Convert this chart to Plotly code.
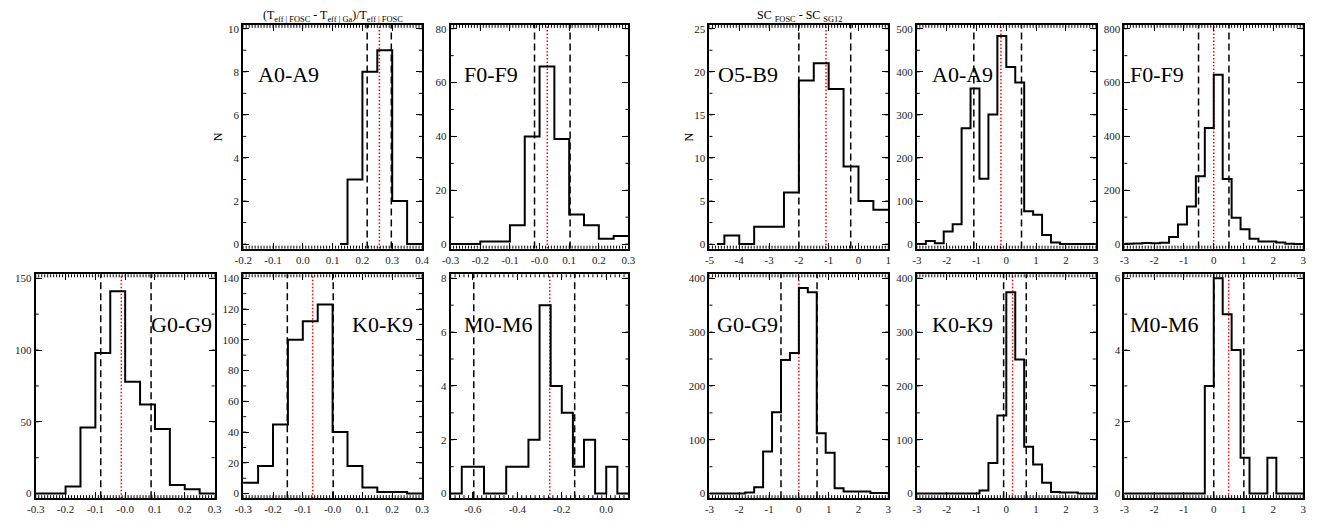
import numpy as np
import plotly.graph_objects as go

# ------------------------------------------------------------------ data
# Teff panels: (Teff|FOSC - Teff|Ga)/Teff|FOSC, bin width 0.05 (bin centres)
teff_A_x = [0.125, 0.175, 0.225, 0.275, 0.325, 0.375, 0.425]
teff_A_n = [0, 3, 8, 9, 2, 0, 0]

teff_F_x = [-0.325, -0.275, -0.225, -0.175, -0.125, -0.075, -0.025,
            0.025, 0.075, 0.125, 0.175, 0.225, 0.275, 0.325]
teff_F_n = [0, 0, 0, 1, 1, 7, 40, 66, 39, 11, 7, 2, 3, 3]

teff_G_x = [-0.325, -0.275, -0.225, -0.175, -0.125, -0.075, -0.025,
            0.025, 0.075, 0.125, 0.175, 0.225, 0.275, 0.325]
teff_G_n = [0, 0, 0, 5, 46, 98, 141, 78, 62, 45, 6, 3, 0, 0]

teff_K_x = [-0.325, -0.275, -0.225, -0.175, -0.125, -0.075, -0.025,
            0.025, 0.075, 0.125, 0.175, 0.225, 0.275, 0.325]
teff_K_n = [7, 7, 18, 45, 100, 112, 123, 40, 18, 4, 1, 1, 0, 0]

teff_M_x = [-0.725, -0.675, -0.625, -0.575, -0.525, -0.475, -0.425, -0.375,
            -0.325, -0.275, -0.225, -0.175, -0.125, -0.075, -0.025, 0.025,
            0.075, 0.125]
teff_M_n = [0, 0, 1, 1, 0, 0, 1, 1, 2, 7, 4, 3, 1, 2, 0, 1, 0, 0]

# SC panels: SC_FOSC - SC_SG12 (bin centres)
sc_O_x = [-4.75, -4.25, -3.75, -3.25, -2.75, -2.25, -1.75, -1.25, -0.75,
          -0.25, 0.25, 0.75, 1.25]
sc_O_n = [0, 1, 0, 2, 2, 6, 19, 21, 18, 9, 5, 4, 4]

sc_bins = [-3.15, -2.85, -2.55, -2.25, -1.95, -1.65, -1.35, -1.05, -0.75,
           -0.45, -0.15, 0.15, 0.45, 0.75, 1.05, 1.35, 1.65, 1.95, 2.25,
           2.55, 2.85, 3.15]
sc_A_n = [0, 0, 7, 2, 29, 46, 269, 361, 152, 301, 483, 411, 375, 76, 68,
          21, 4, 0, 0, 0, 0, 0]
sc_F_n = [1, 1, 2, 4, 3, 5, 26, 73, 140, 252, 431, 629, 242, 98, 55, 20,
          10, 10, 6, 1, 0, 0]
sc_G_n = [0, 0, 0, 0, 0, 2, 12, 78, 151, 248, 261, 382, 374, 112, 76, 10,
          4, 4, 4, 1, 1, 1]
sc_K_n = [0, 0, 0, 0, 0, 0, 0, 0, 6, 57, 145, 374, 249, 87, 54, 20, 3, 2,
          2, 0, 0, 0]
sc_M_n = [0, 0, 0, 0, 0, 0, 0, 0, 0, 0, 3, 6, 5, 4, 1, 0, 0, 1, 0, 0, 0, 0]

# dashed (spread) and dotted red (centre) markers
teff_A_dash, teff_A_red = [0.216, 0.297], 0.257
teff_F_dash, teff_F_red = [-0.017, 0.103], 0.026
teff_G_dash, teff_G_red = [-0.082, 0.087], -0.013
teff_K_dash, teff_K_red = [-0.152, 0.002], -0.067
teff_M_dash, teff_M_red = [-0.596, -0.142], -0.254
sc_O_dash, sc_O_red = [-2.0, -0.26], -1.09
sc_A_dash, sc_A_red = [-1.09, 0.51], -0.18
sc_F_dash, sc_F_red = [-0.51, 0.51], 0.0
sc_G_dash, sc_G_red = [-0.60, 0.61], 0.0
sc_K_dash, sc_K_red = [-0.09, 0.67], 0.21
sc_M_dash, sc_M_red = [0.0, 1.01], 0.5

# panel labels
labels = ["A0-A9", "F0-F9", "O5-B9", "A0-A9", "F0-F9",
          "G0-G9", "K0-K9", "M0-M6", "G0-G9", "K0-K9", "M0-M6"]

# tick values / labels
xt_teff3 = [-0.3, -0.2, -0.1, 0.0, 0.1, 0.2, 0.3]
xtt_teff3 = ["-0.3", "-0.2", "-0.1", "-0.0", "0.1", "0.2", "0.3"]
xt_teffA = [-0.2, -0.1, 0.0, 0.1, 0.2, 0.3, 0.4]
xtt_teffA = ["-0.2", "-0.1", "0.0", "0.1", "0.2", "0.3", "0.4"]
xt_teffM = [-0.6, -0.4, -0.2, 0.0]
xtt_teffM = ["-0.6", "-0.4", "-0.2", "0.0"]
xt_scO = [-5, -4, -3, -2, -1, 0, 1]
xt_sc = [-3, -2, -1, 0, 1, 2, 3]

yt_teffA = [0, 2, 4, 6, 8, 10]
yt_teffF = [0, 20, 40, 60, 80]
yt_teffG = [0, 50, 100, 150]
yt_teffK = [0, 20, 40, 60, 80, 100, 120, 140]
yt_teffM = [0, 2, 4, 6, 8]
yt_scO = [0, 5, 10, 15, 20, 25]
yt_scA = [0, 100, 200, 300, 400, 500]
yt_scF = [0, 200, 400, 600, 800]
yt_scG = [0, 100, 200, 300, 400]
yt_scK = [0, 100, 200, 300, 400]
yt_scM = [0, 2, 4, 6]

# ------------------------------------------------------------------ layout
# the html body keeps its default 8px margin: the figure is 1314x507 and all
# page-pixel positions below are shifted by OFF.
OFF = 8
W, H = 1330 - 2 * OFF, 523 - 2 * OFF
cols = [(27, 208), (237, 418), (447, 627), (709, 890), (919, 1100), (1129, 1310)]
rows = [(23, 249), (275, 501)]


def px(v):
    return (v - OFF) / W


def py(v):
    return 1 - (v - OFF) / H


panels = [
    # col, row, x, n, xrange, xticks, xticktext, xminor, yticks, yminor, dash, red, label, label_x
    (1, 0, teff_A_x, teff_A_n, [-0.2, 0.4], xt_teffA, xtt_teffA, 0.01, yt_teffA, 1, teff_A_dash, teff_A_red, labels[0], 250),
    (2, 0, teff_F_x, teff_F_n, [-0.3, 0.3], xt_teff3, xtt_teff3, 0.01, yt_teffF, 10, teff_F_dash, teff_F_red, labels[1], 458),
    (3, 0, sc_O_x, sc_O_n, [-5, 1], xt_scO, [str(v) for v in xt_scO], 0.1, yt_scO, 2.5, sc_O_dash, sc_O_red, labels[2], 716),
    (4, 0, sc_bins, sc_A_n, [-3, 3], xt_sc, [str(v) for v in xt_sc], 0.1, yt_scA, 50, sc_A_dash, sc_A_red, labels[3], 932),
    (5, 0, sc_bins, sc_F_n, [-3, 3], xt_sc, [str(v) for v in xt_sc], 0.1, yt_scF, 100, sc_F_dash, sc_F_red, labels[4], 1133),
    (0, 1, teff_G_x, teff_G_n, [-0.3, 0.3], xt_teff3, xtt_teff3, 0.01, yt_teffG, 25, teff_G_dash, teff_G_red, labels[5], 142),
    (1, 1, teff_K_x, teff_K_n, [-0.3, 0.3], xt_teff3, xtt_teff3, 0.01, yt_teffK, 10, teff_K_dash, teff_K_red, labels[6], 345),
    (2, 1, teff_M_x, teff_M_n, [-0.7, 0.1], xt_teffM, xtt_teffM, 0.02, yt_teffM, 1, teff_M_dash, teff_M_red, labels[7], 458),
    (3, 1, sc_bins, sc_G_n, [-3, 3], xt_sc, [str(v) for v in xt_sc], 0.1, yt_scG, 50, sc_G_dash, sc_G_red, labels[8], 715),
    (4, 1, sc_bins, sc_K_n, [-3, 3], xt_sc, [str(v) for v in xt_sc], 0.1, yt_scK, 50, sc_K_dash, sc_K_red, labels[9], 932),
    (5, 1, sc_bins, sc_M_n, [-3, 3], xt_sc, [str(v) for v in xt_sc], 0.1, yt_scM, 1, sc_M_dash, sc_M_red, labels[10], 1133),
]

SERIF = "Liberation Serif"


def minor_vals(lo, hi, step):
    k0 = int(np.ceil(lo / step - 1e-6))
    k1 = int(np.floor(hi / step + 1e-6))
    return [round(k * step, 6) for k in range(k0, k1 + 1)]


fig = go.Figure()
layout = dict(width=W, height=H, margin=dict(l=0, r=0, t=0, b=0),
              paper_bgcolor="white", plot_bgcolor="white", showlegend=False,
              font=dict(family=SERIF, color="black"))
shapes, annotations = [], []
TICK = dict(ticks="inside", ticklen=6, tickwidth=1, tickcolor="black",
            showline=True, linewidth=2, linecolor="black", mirror="allticks",
            showgrid=False, zeroline=False,
            tickfont=dict(family=SERIF, size=11, color="#222"))

for i, (c, r, x, n, xr, xt, xtt, xmin, yt, ymin, dash, red, lab, lx) in enumerate(panels):
    k = i + 1
    xa = "xaxis" if k == 1 else f"xaxis{k}"
    ya = "yaxis" if k == 1 else f"yaxis{k}"
    xs = "x" if k == 1 else f"x{k}"
    ys = "y" if k == 1 else f"y{k}"
    x0, x1 = cols[c]
    top, bot = rows[r]
    T = yt[-1]
    yr = [-0.021 * T, 1.018 * T]
    layout[xa] = dict(domain=[px(x0), px(x1)], range=xr, anchor=ys,
                      tickmode="array", tickvals=xt, ticktext=xtt, **TICK)
    layout[ya] = dict(domain=[py(bot), py(top)], range=yr, anchor=xs,
                      tickmode="array", tickvals=yt,
                      ticktext=[str(v) for v in yt], **TICK)

    # minor ticks on all four sides (thin paths)
    fy = 3.0 / (bot - top)
    fx = 3.0 / (x1 - x0)
    xm = minor_vals(xr[0], xr[1], xmin)
    ym = minor_vals(0, yr[1], ymin)
    pb = "".join(f"M{v},0L{v},{fy:.4f}" for v in xm)
    pt = "".join(f"M{v},1L{v},{1 - fy:.4f}" for v in xm)
    pl = "".join(f"M0,{v}L{fx:.4f},{v}" for v in ym)
    pr = "".join(f"M1,{v}L{1 - fx:.4f},{v}" for v in ym)
    for p in (pb, pt):
        shapes.append(dict(type="path", xref=xs, yref=f"{ys} domain", path=p,
                           line=dict(color="black", width=1)))
    for p in (pl, pr):
        shapes.append(dict(type="path", xref=f"{xs} domain", yref=ys, path=p,
                           line=dict(color="black", width=1)))

    for d in dash:
        shapes.append(dict(type="line", xref=xs, yref=f"{ys} domain", x0=d, x1=d,
                           y0=0, y1=1, layer="below",
                           line=dict(color="black", width=1.5, dash="7px,4px")))
    shapes.append(dict(type="line", xref=xs, yref=f"{ys} domain", x0=red, x1=red,
                       y0=0, y1=1, layer="below",
                       line=dict(color="red", width=1.5, dash="1.5px,2px")))
    fig.add_trace(go.Scatter(x=x, y=n, mode="lines", xaxis=xs, yaxis=ys,
                             line=dict(shape="hvh", color="black", width=2),
                             hoverinfo="skip"))
    cy = 73 if r == 0 else 326
    annotations.append(dict(text=lab, xref="paper", yref="paper", x=px(lx),
                            y=py(cy), xanchor="left", yanchor="middle",
                            showarrow=False, font=dict(family=SERIF, size=22, color="black")))

annotations += [
    dict(text="(T<sub>eff | FOSC</sub> - T<sub>eff | Ga</sub>)/T<sub>eff | FOSC</sub>",
         xref="paper", yref="paper", x=px(328), y=py(14.5), xanchor="center",
         yanchor="middle", showarrow=False, font=dict(family=SERIF, size=12, color="black")),
    dict(text="SC <sub>FOSC</sub> - SC <sub>SG12</sub>",
         xref="paper", yref="paper", x=px(800), y=py(14.5), xanchor="center",
         yanchor="middle", showarrow=False, font=dict(family=SERIF, size=12, color="black")),
    dict(text="N", xref="paper", yref="paper", x=px(211), y=py(136),
         xanchor="center", yanchor="middle", textangle=-90, showarrow=False,
         font=dict(family=SERIF, size=12, color="black")),
    dict(text="N", xref="paper", yref="paper", x=px(688), y=py(136),
         xanchor="center", yanchor="middle", textangle=-90, showarrow=False,
         font=dict(family=SERIF, size=12, color="black")),
]

layout["shapes"] = shapes
layout["annotations"] = annotations
fig.update_layout(**layout)
fig.write_html("out.html", config={"displayModeBar": False})
